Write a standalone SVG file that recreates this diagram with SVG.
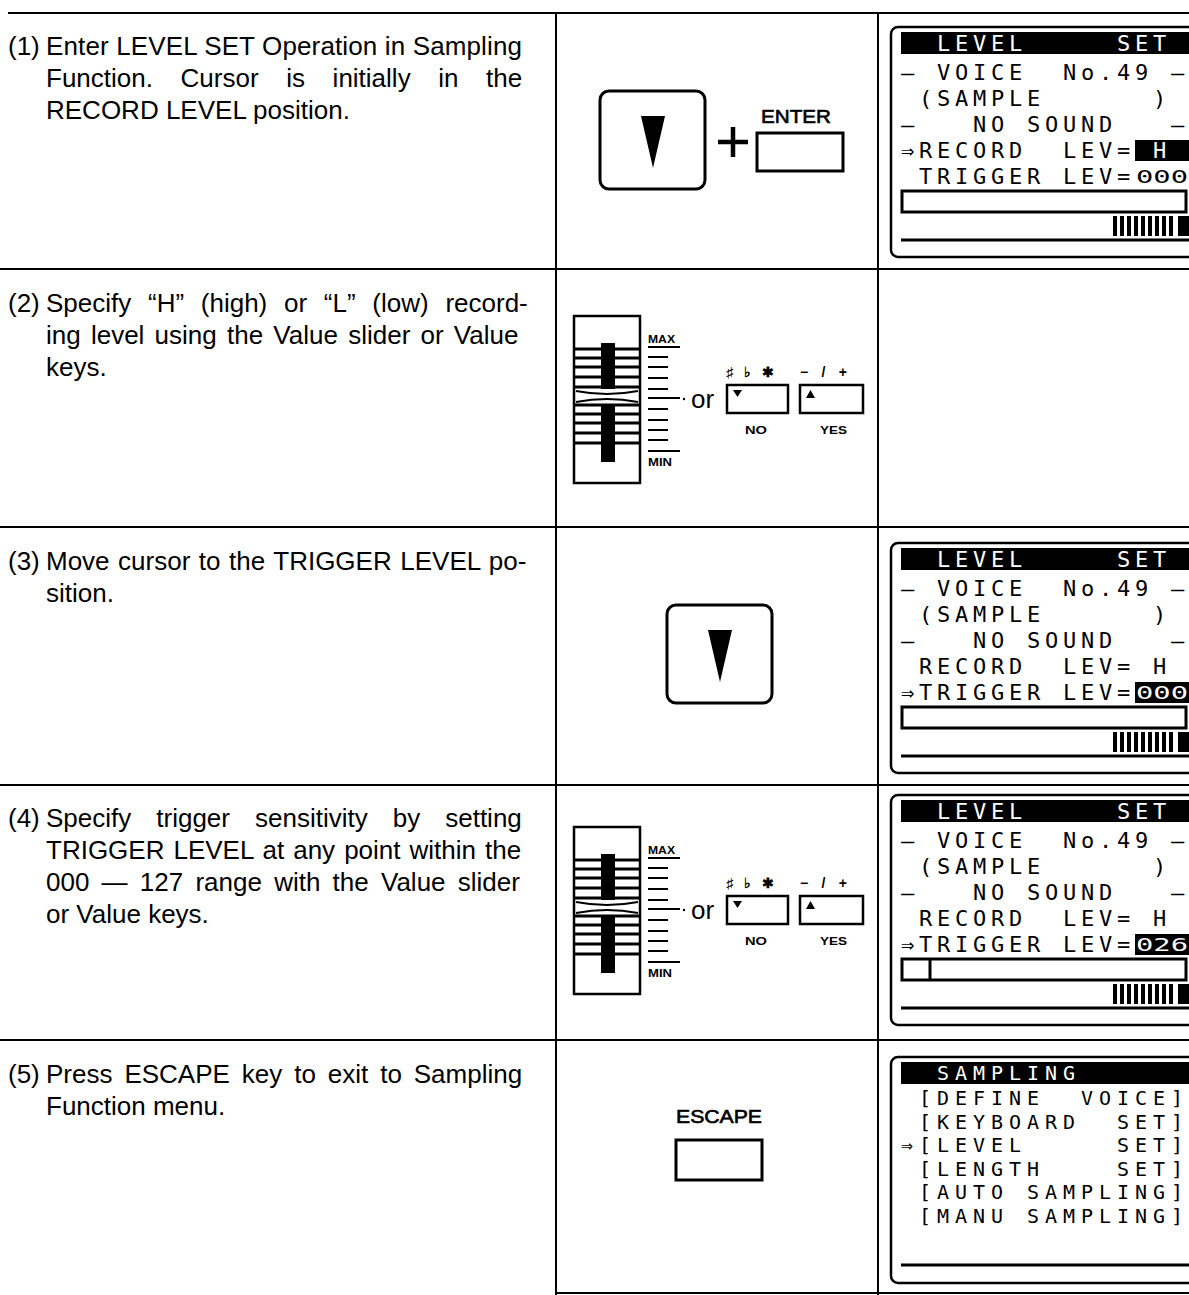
<svg xmlns="http://www.w3.org/2000/svg" width="1189" height="1295" viewBox="0 0 1189 1295">
<style>
.t{font-family:"Liberation Sans",Arial,sans-serif;font-size:26px;fill:#000}
.lcd{font-family:"DejaVu Sans Mono",monospace;font-size:22px;letter-spacing:4.76px;white-space:pre;fill:#000}
.lcd5{font-family:"DejaVu Sans Mono",monospace;font-size:20px;letter-spacing:5.96px;white-space:pre;fill:#000}
.w{fill:#fff}
.sm{font-family:"DejaVu Sans Mono",monospace;font-size:17px;white-space:pre}
.ln{stroke:#000;stroke-width:2;fill:none}
.key{fill:#fff;stroke:#000;stroke-width:3}
.scr{fill:#fff;stroke:#000;stroke-width:2.5}
.lbl{font-family:"Liberation Sans",Arial,sans-serif;font-weight:bold;fill:#000}
.cap{font-family:"Liberation Sans",Arial,sans-serif;fill:#000;stroke:#000;stroke-width:0.6}
.tick{stroke:#000;stroke-width:2}
.slat{stroke:#000;stroke-width:3}
</style>
<defs>
<g id="stripes">
<rect x="1113" y="0" width="4" height="20"/><rect x="1120" y="0" width="4" height="20"/><rect x="1127" y="0" width="4" height="20"/><rect x="1134" y="0" width="4" height="20"/><rect x="1141" y="0" width="4" height="20"/><rect x="1148" y="0" width="4" height="20"/><rect x="1155" y="0" width="4" height="20"/><rect x="1162" y="0" width="4" height="20"/><rect x="1169" y="0" width="4" height="20"/><rect x="1178" y="0" width="12" height="20"/>
</g>
<g id="slider">
<rect x="574" y="316" width="66" height="167" fill="#fff" stroke="#000" stroke-width="2.5"/>
<rect x="601" y="343" width="14" height="119" fill="#000"/>
<line class="slat" x1="575" y1="349" x2="639" y2="349"/>
<line class="slat" x1="575" y1="358" x2="639" y2="358"/>
<line class="slat" x1="575" y1="367" x2="639" y2="367"/>
<line class="slat" x1="575" y1="377" x2="639" y2="377"/>
<line class="slat" x1="575" y1="387" x2="639" y2="387"/>
<rect x="576" y="389" width="62" height="15" fill="#fff"/>
<path d="M576,391 Q607,397 638,391 M576,402 Q607,396 638,402" fill="none" stroke="#000" stroke-width="2"/>
<line class="slat" x1="575" y1="405" x2="639" y2="405"/>
<line class="slat" x1="575" y1="414" x2="639" y2="414"/>
<line class="slat" x1="575" y1="423" x2="639" y2="423"/>
<line class="slat" x1="575" y1="433" x2="639" y2="433"/>
<line class="slat" x1="575" y1="443" x2="639" y2="443"/>
<line class="tick" x1="648" y1="347" x2="680" y2="347"/>
<line class="tick" x1="648" y1="357" x2="668" y2="357"/>
<line class="tick" x1="648" y1="367" x2="668" y2="367"/>
<line class="tick" x1="648" y1="378" x2="668" y2="378"/>
<line class="tick" x1="648" y1="389" x2="668" y2="389"/>
<line class="tick" x1="648" y1="398" x2="680" y2="398"/>
<line class="tick" x1="648" y1="409" x2="668" y2="409"/>
<line class="tick" x1="648" y1="420" x2="668" y2="420"/>
<line class="tick" x1="648" y1="430" x2="668" y2="430"/>
<line class="tick" x1="648" y1="440" x2="668" y2="440"/>
<line class="tick" x1="648" y1="451" x2="680" y2="451"/>
<text class="lbl" x="648" y="343" font-size="10" textLength="27" lengthAdjust="spacingAndGlyphs">MAX</text>
<text class="lbl" x="648" y="466" font-size="10" textLength="24" lengthAdjust="spacingAndGlyphs">MIN</text>
<circle cx="684" cy="399" r="1.2"/>
<text class="t" x="691" y="408" font-size="25">or</text>
<rect x="727" y="385" width="61" height="28" fill="#fff" stroke="#000" stroke-width="2.5"/>
<polygon points="733,390 742,390 737.5,397"/>
<rect x="800" y="385" width="63" height="28" fill="#fff" stroke="#000" stroke-width="2.5"/>
<polygon points="806,398 815,398 810.5,390"/>
<text class="lbl" x="726" y="377" font-size="14" textLength="48" lengthAdjust="spacing">♯ ♭ ✱</text>
<text class="lbl" x="800" y="377" font-size="14" textLength="47" lengthAdjust="spacing">− / +</text>
<text class="lbl" x="745" y="434" font-size="11" textLength="22" lengthAdjust="spacingAndGlyphs">NO</text>
<text class="lbl" x="820" y="434" font-size="11" textLength="27" lengthAdjust="spacingAndGlyphs">YES</text>
</g>
</defs>

<g id="table-lines" class="ln">
<line x1="8" y1="13" x2="1189" y2="13"/>
<line x1="0" y1="269" x2="1189" y2="269"/>
<line x1="0" y1="527" x2="1189" y2="527"/>
<line x1="0" y1="785" x2="1189" y2="785"/>
<line x1="0" y1="1040" x2="1189" y2="1040"/>
<line x1="556" y1="1293" x2="1189" y2="1293"/>
<line x1="556" y1="13" x2="556" y2="1295"/>
<line x1="878" y1="13" x2="878" y2="1295"/>
</g>

<g id="step1-text">
<text class="t" x="8" y="55">(1)</text>
<text class="t" x="46" y="55" textLength="476" lengthAdjust="spacing">Enter LEVEL SET Operation in Sampling</text>
<text class="t" x="46" y="87" style="word-spacing:20.4px">Function. Cursor is initially in the</text>
<text class="t" x="46" y="119">RECORD LEVEL position.</text>
</g>
<g id="step1-keys">
<rect class="key" x="600" y="91" width="105" height="98" rx="9"/>
<polygon points="641,116 665,116 653,168"/>
<path d="M718,142 H748 M733,127 V157" stroke="#000" stroke-width="4.5"/>
<text class="cap" x="761" y="123" font-size="18" textLength="70" lengthAdjust="spacingAndGlyphs">ENTER</text>
<rect x="757" y="133" width="86" height="38" fill="#fff" stroke="#000" stroke-width="3"/>
</g>
<g id="step1-screen">
<rect class="scr" x="891" y="27" width="312" height="230" rx="7"/>
<rect x="901" y="32" width="290" height="22"/>
<text class="lcd w" x="901" y="51" xml:space="preserve">  LEVEL     SET </text>
<text class="lcd" x="901" y="80" xml:space="preserve">– VOICE  No.49 –</text>
<text class="lcd" x="901" y="106" xml:space="preserve"> (SAMPLE      ) </text>
<text class="lcd" x="901" y="132" xml:space="preserve">–   NO SOUND   –</text>
<text class="lcd" x="901" y="158" xml:space="preserve">⇒RECORD  LEV=</text>
<rect x="1135" y="140" width="56" height="21"/>
<text class="lcd w" x="1153" y="158">H</text>
<text class="lcd" x="901" y="184" xml:space="preserve"> TRIGGER LEV=</text>
<text class="sm" x="1136" y="183" textLength="52" lengthAdjust="spacingAndGlyphs">000</text>
<rect x="902" y="191" width="284" height="21" fill="#fff" stroke="#000" stroke-width="3"/>
<use href="#stripes" y="216"/>
<line x1="901" y1="240" x2="1189" y2="240" stroke="#000" stroke-width="3"/>
</g>

<g id="step2-text">
<text class="t" x="8" y="312">(2)</text>
<text class="t" x="46" y="312" style="word-spacing:9.5px">Specify “H” (high) or “L” (low) record-</text>
<text class="t" x="46" y="344" style="word-spacing:3px">ing level using the Value slider or Value</text>
<text class="t" x="46" y="376">keys.</text>
</g>
<g id="step2-controls">
<use href="#slider"/>
</g>

<g id="step3-text">
<text class="t" x="8" y="570">(3)</text>
<text class="t" x="46" y="570" style="word-spacing:1.3px">Move cursor to the TRIGGER LEVEL po-</text>
<text class="t" x="46" y="602">sition.</text>
</g>
<g id="step3-keys">
<rect class="key" x="667" y="605" width="105" height="98" rx="9"/>
<polygon points="708,630 732,630 720,682"/>
</g>
<g id="step3-screen" transform="translate(0,516)">
<rect class="scr" x="891" y="27" width="312" height="230" rx="7"/>
<rect x="901" y="32" width="290" height="22"/>
<text class="lcd w" x="901" y="51" xml:space="preserve">  LEVEL     SET </text>
<text class="lcd" x="901" y="80" xml:space="preserve">– VOICE  No.49 –</text>
<text class="lcd" x="901" y="106" xml:space="preserve"> (SAMPLE      ) </text>
<text class="lcd" x="901" y="132" xml:space="preserve">–   NO SOUND   –</text>
<text class="lcd" x="901" y="158" xml:space="preserve"> RECORD  LEV= H</text>
<text class="lcd" x="901" y="184" xml:space="preserve">⇒TRIGGER LEV=</text>
<rect x="1135" y="166" width="56" height="21"/>
<text class="sm w" x="1136" y="183" textLength="52" lengthAdjust="spacingAndGlyphs">000</text>
<rect x="902" y="191" width="284" height="21" fill="#fff" stroke="#000" stroke-width="3"/>
<use href="#stripes" y="216"/>
<line x1="901" y1="240" x2="1189" y2="240" stroke="#000" stroke-width="3"/>
</g>

<g id="step4-text">
<text class="t" x="8" y="827">(4)</text>
<text class="t" x="46" y="827" style="word-spacing:17.8px">Specify trigger sensitivity by setting</text>
<text class="t" x="46" y="859" style="word-spacing:1.8px">TRIGGER LEVEL at any point within the</text>
<text class="t" x="46" y="891" style="word-spacing:5px">000 — 127 range with the Value slider</text>
<text class="t" x="46" y="923">or Value keys.</text>
</g>
<g id="step4-controls" transform="translate(0,511)">
<use href="#slider"/>
</g>
<g id="step4-screen" transform="translate(0,768)">
<rect class="scr" x="891" y="27" width="312" height="230" rx="7"/>
<rect x="901" y="32" width="290" height="22"/>
<text class="lcd w" x="901" y="51" xml:space="preserve">  LEVEL     SET </text>
<text class="lcd" x="901" y="80" xml:space="preserve">– VOICE  No.49 –</text>
<text class="lcd" x="901" y="106" xml:space="preserve"> (SAMPLE      ) </text>
<text class="lcd" x="901" y="132" xml:space="preserve">–   NO SOUND   –</text>
<text class="lcd" x="901" y="158" xml:space="preserve"> RECORD  LEV= H</text>
<text class="lcd" x="901" y="184" xml:space="preserve">⇒TRIGGER LEV=</text>
<rect x="1135" y="166" width="56" height="21"/>
<text class="sm w" x="1136" y="183" textLength="52" lengthAdjust="spacingAndGlyphs">026</text>
<rect x="902" y="191" width="284" height="21" fill="#fff" stroke="#000" stroke-width="3"/>
<line x1="930" y1="191" x2="930" y2="212" stroke="#000" stroke-width="3"/>
<use href="#stripes" y="216"/>
<line x1="901" y1="240" x2="1189" y2="240" stroke="#000" stroke-width="3"/>
</g>

<g id="step5-text">
<text class="t" x="8" y="1083">(5)</text>
<text class="t" x="46" y="1083" style="word-spacing:4.7px">Press ESCAPE key to exit to Sampling</text>
<text class="t" x="46" y="1115">Function menu.</text>
</g>
<g id="step5-keys">
<text class="cap" x="676" y="1123" font-size="18" textLength="86" lengthAdjust="spacingAndGlyphs">ESCAPE</text>
<rect x="676" y="1140" width="86" height="40" fill="#fff" stroke="#000" stroke-width="3"/>
</g>
<g id="step5-screen">
<rect class="scr" x="891" y="1057" width="312" height="226" rx="7"/>
<rect x="901" y="1062" width="290" height="22"/>
<text class="lcd5 w" x="901" y="1080" xml:space="preserve">  SAMPLING</text>
<text class="lcd5" x="901" y="1105" xml:space="preserve"> [DEFINE  VOICE]</text>
<text class="lcd5" x="901" y="1128.5" xml:space="preserve"> [KEYBOARD  SET]</text>
<text class="lcd5" x="901" y="1152" xml:space="preserve">⇒[LEVEL     SET]</text>
<text class="lcd5" x="901" y="1175.5" xml:space="preserve"> [LENGTH    SET]</text>
<text class="lcd5" x="901" y="1199" xml:space="preserve"> [AUTO SAMPLING]</text>
<text class="lcd5" x="901" y="1222.5" xml:space="preserve"> [MANU SAMPLING]</text>
<line x1="901" y1="1265" x2="1189" y2="1265" stroke="#000" stroke-width="3"/>
</g>
</svg>
